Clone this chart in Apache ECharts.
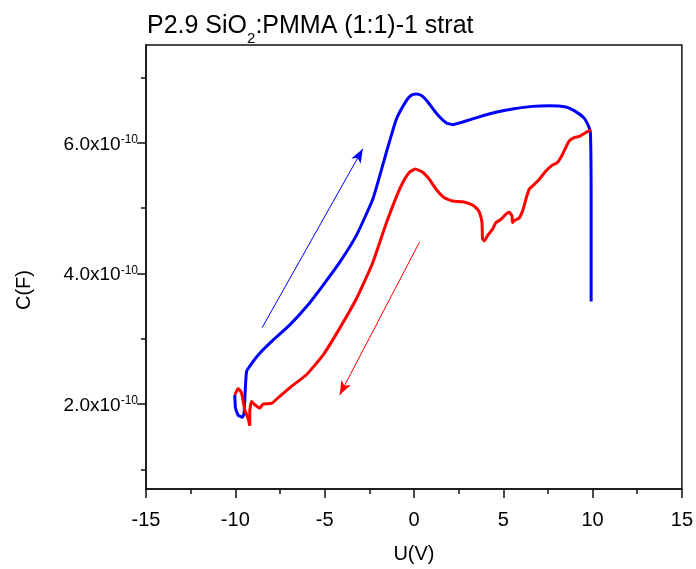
<!DOCTYPE html>
<html>
<head>
<meta charset="utf-8">
<script src="https://cdn.jsdelivr.net/npm/echarts/dist/echarts.min.js"></script>
<style>html,body{margin:0;padding:0;background:#fff;}#c{width:696px;height:569px;}</style>
</head>
<body>
<div id="c"></div>
<script>
// Values of C are in units of 1e-10 F
var blueU = [-10.03,-9.99,-9.84,-9.60,-9.51,-9.37,-9.01,-8.63,-7.89,-6.96,-6.02,-5.09,-4.16,-3.23,-2.30,-1.55,-0.99,-0.44,-0.15,0.12,0.40,0.68,1.24,1.80,2.17,2.73,3.66,4.59,5.52,6.64,7.57,8.50,9.06,9.53,9.77,9.88,9.92,9.92,9.92];
var blueC = [2.14,1.94,1.83,1.80,1.86,2.50,2.65,2.78,2.98,3.21,3.49,3.82,4.17,4.58,5.14,5.85,6.36,6.64,6.73,6.75,6.73,6.66,6.46,6.31,6.28,6.32,6.40,6.47,6.52,6.56,6.57,6.55,6.48,6.38,6.26,6.16,5.14,4.07,3.57];
var redU = [9.92,9.62,9.25,8.97,8.69,8.50,8.31,8.03,7.75,7.39,7.01,6.64,6.45,6.27,6.12,5.89,5.61,5.52,5.49,5.34,5.15,4.87,4.59,4.40,4.12,3.94,3.84,3.81,3.66,3.47,3.20,2.73,2.17,1.70,1.24,0.87,0.49,0.08,-0.25,-0.63,-0.99,-1.55,-2.30,-3.23,-4.16,-5.09,-6.02,-6.96,-7.51,-7.98,-8.45,-8.63,-8.91,-9.09,-9.19,-9.19,-9.28,-9.47,-9.65,-9.84,-10.03];
var redC = [6.20,6.16,6.10,6.08,6.03,5.93,5.82,5.70,5.66,5.57,5.44,5.34,5.29,5.14,4.99,4.85,4.81,4.78,4.88,4.94,4.91,4.83,4.78,4.68,4.58,4.50,4.53,4.78,4.94,5.01,5.06,5.10,5.11,5.16,5.29,5.44,5.55,5.60,5.55,5.39,5.17,4.77,4.17,3.61,3.16,2.75,2.45,2.25,2.12,2.01,2.00,1.94,1.99,2.04,1.89,1.67,1.78,1.91,2.17,2.24,2.14];
var blueArrow = [[-8.50, 3.17], [-2.86, 5.91]];
var redArrow = [[0.31, 4.48], [-4.16, 2.14]];
var xTicks = [-15, -10, -5, 0, 5, 10, 15];
var yMajor = [2, 4, 6];
var yMinor = [1, 3, 5, 7];
var titleMain = 'P2.9 SiO', titleSub = '2', titleRest = ':PMMA (1:1)-1 strat';

function pairs(u, c) { return u.map(function (v, i) { return [v, c[i]]; }); }

var FONT = 'Liberation Sans, Arial, sans-serif';
var chart = echarts.init(document.getElementById('c'), null, {renderer: 'canvas'});
chart.setOption({
  animation: false,
  backgroundColor: '#fff',
  title: {
    text: '{a|' + titleMain + '}{s|' + titleSub + '}{a|' + titleRest + '}',
    left: 147, top: 9, padding: 0,
    textStyle: {
      fontWeight: 'normal',
      rich: {
        a: {fontFamily: FONT, fontSize: 25, fontWeight: 'normal', color: '#000', lineHeight: 30, verticalAlign: 'bottom'},
        s: {fontFamily: FONT, fontSize: 15, fontWeight: 'normal', color: '#000', lineHeight: 30, verticalAlign: 'bottom', padding: [0, 0, -7, 0]}
      }
    }
  },
  grid: {left: 146, right: 13, top: 45, bottom: 78, show: true, borderColor: '#111', borderWidth: 1.5, backgroundColor: 'transparent'},
  xAxis: {
    type: 'value', min: -15, max: 15, interval: 5,
    name: 'U(V)', nameLocation: 'middle', nameGap: 55,
    nameTextStyle: {fontFamily: FONT, fontSize: 20, color: '#000'},
    axisLine: {show: true, onZero: false, lineStyle: {color: '#111', width: 1.5}},
    axisTick: {show: true, inside: false, length: 9, lineStyle: {color: '#111', width: 1.5}},
    minorTick: {show: true, splitNumber: 2, length: 5, lineStyle: {color: '#111', width: 1.5}},
    splitLine: {show: false},
    axisLabel: {fontFamily: FONT, fontSize: 20, color: '#000', margin: 21,
      customValues: xTicks, formatter: function (v) { return String(v); }}
  },
  yAxis: [{
    type: 'value', min: 0.7, max: 7.5, position: 'left',
    axisLine: {show: true, onZero: false, lineStyle: {color: '#111', width: 1.5}},
    axisTick: {show: true, inside: false, length: 9, customValues: yMajor, lineStyle: {color: '#111', width: 1.5}},
    splitLine: {show: false},
    axisLabel: {
      margin: 8, customValues: yMajor,
      formatter: function (v) { return '{a|' + v.toFixed(1) + 'x10}{b|-10}'; },
      rich: {
        a: {fontFamily: FONT, fontSize: 19, color: '#000', lineHeight: 22, verticalAlign: 'bottom'},
        b: {fontFamily: FONT, fontSize: 12, color: '#000', lineHeight: 22, verticalAlign: 'bottom', padding: [0, 0, 8, 0]}
      }
    }
  }, {
    type: 'value', min: 0.7, max: 7.5, position: 'left', offset: 0,
    axisLine: {show: false, onZero: false},
    axisTick: {show: true, inside: false, length: 5, customValues: yMinor, lineStyle: {color: '#111', width: 1.5}},
    axisLabel: {show: false},
    splitLine: {show: false}
  }],
  graphic: [{
    type: 'text', left: 14, top: 270, rotation: Math.PI / 2,
    style: {text: 'C(F)', fontFamily: FONT, fontSize: 20, fill: '#000'}
  }],
  series: [{
    type: 'line', name: 'forward', data: pairs(blueU, blueC), showSymbol: false, symbol: 'none',
    smooth: 0.15, lineStyle: {color: '#0000FF', width: 3}, z: 2,
    markLine: {
      silent: true, symbol: ['none', 'arrow'], symbolSize: [8, 14], label: {show: false},
      lineStyle: {color: '#0000FF', width: 1, type: 'solid'},
      data: [[{coord: blueArrow[0]}, {coord: blueArrow[1]}]]
    }
  }, {
    type: 'line', name: 'reverse', data: pairs(redU, redC), showSymbol: false, symbol: 'none',
    smooth: 0.15, lineStyle: {color: '#FF0000', width: 3}, z: 3,
    markLine: {
      silent: true, symbol: ['none', 'arrow'], symbolSize: [8, 14], label: {show: false},
      lineStyle: {color: '#FF0000', width: 1, type: 'solid'},
      data: [[{coord: redArrow[0]}, {coord: redArrow[1]}]]
    }
  }]
});
</script>
</body>
</html>
